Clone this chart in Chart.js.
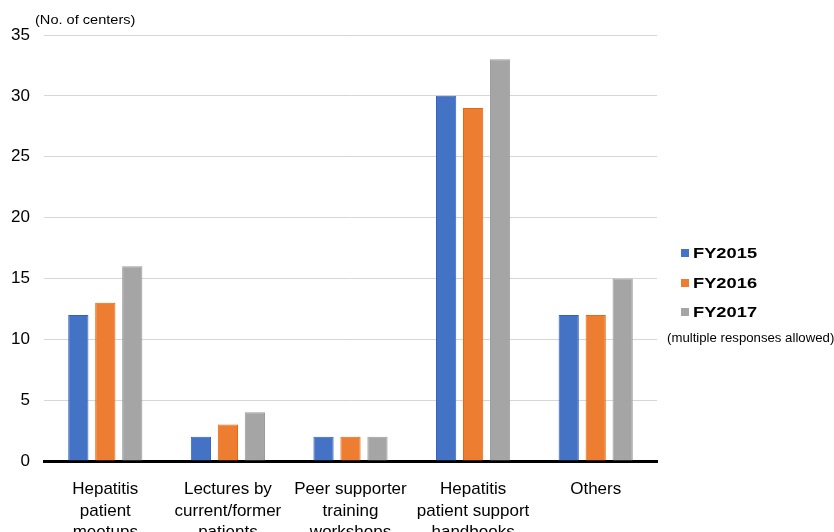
<!DOCTYPE html>
<html>
<head>
<meta charset="utf-8">
<script src="https://cdn.jsdelivr.net/npm/chart.js@4"></script>
<style>
  html, body { margin: 0; padding: 0; background: #fff; overflow: hidden; }
  #wrap { width: 834px; height: 532px; position: relative; }
</style>
</head>
<body>
<div id="wrap"><canvas id="c" width="834" height="532"></canvas></div>
<script>
// Categories (multi-line labels)
const categories = [
  ["Hepatitis", "patient", "meetups"],
  ["Lectures by", "current/former", "patients"],
  ["Peer supporter", "training", "workshops"],
  ["Hepatitis", "patient support", "handbooks"],
  ["Others"]
];
const seriesNames = ["FY2015", "FY2016", "FY2017"];
const fy2015 = [12, 2, 2, 30, 12];
const fy2016 = [13, 3, 2, 29, 12];
const fy2017 = [16, 4, 2, 33, 15];
const yTicks = [0, 5, 10, 15, 20, 25, 30, 35];
const unitLabel = "(No. of centers)";
const noteLabel = "(multiple responses allowed)";

const fills = ["#4472C4", "#ED7D31", "#A5A5A5"];
const borders = ["#2F62C4", "#E8670F", "#9A9A9A"];
const values = [fy2015, fy2016, fy2017];

const FONT = "'Liberation Sans', Arial, sans-serif";

// Draws text slightly widened horizontally
function wideText(ctx, text, x, y, sx) {
  ctx.save();
  ctx.translate(x, y);
  ctx.scale(sx, 1);
  ctx.fillText(text, 0, 0);
  ctx.restore();
}

// Legend, unit caption and note drawn beside the plot
const sidePlugin = {
  id: "side",
  afterDraw(chart) {
    const ctx = chart.ctx;
    ctx.save();
    ctx.fillStyle = "#000";
    ctx.textBaseline = "middle";
    ctx.textAlign = "left";
    ctx.font = "13.5px " + FONT;
    wideText(ctx, unitLabel, 35, 20, 1.08);

    const x0 = 681, ys = [253, 283, 312];
    chart.data.datasets.forEach((ds, i) => {
      ctx.fillStyle = ds.backgroundColor;
      ctx.fillRect(x0, ys[i] - 4, 8, 8);
      ctx.fillStyle = "#000";
      ctx.font = "bold 15.5px " + FONT;
      wideText(ctx, ds.label, x0 + 12, ys[i] + 1, 1.18);
    });
    ctx.font = "12px " + FONT;
    wideText(ctx, noteLabel, 667, 339, 1.1);
    ctx.restore();
  }
};

new Chart(document.getElementById("c"), {
  type: "bar",
  data: {
    labels: categories,
    datasets: seriesNames.map((name, i) => ({
      label: name,
      data: values[i],
      backgroundColor: fills[i],
      borderColor: borders[i],
      borderWidth: 1,
      categoryPercentage: 0.66,
      barPercentage: 0.75
    }))
  },
  options: {
    responsive: false,
    animation: false,
    devicePixelRatio: 1,
    layout: { padding: { top: 35, right: 177, left: 0, bottom: 0 } },
    plugins: {
      legend: { display: false },
      tooltip: { enabled: false }
    },
    scales: {
      x: {
        grid: { display: false },
        border: { display: true, color: "#000", width: 3 },
        ticks: {
          color: "#000",
          font: { family: FONT, size: 17, lineHeight: 1.25 },
          padding: 10,
          maxRotation: 0,
          autoSkip: false
        },
        afterFit(s) { s.height = 71; }
      },
      y: {
        min: 0,
        max: 35,
        afterBuildTicks(s) { s.ticks = yTicks.map(v => ({ value: v })); },
        grid: { color: "#d6d6d6", lineWidth: 1, drawTicks: false },
        border: { display: false },
        ticks: {
          color: "#000",
          font: { family: FONT, size: 17 },
          padding: 14
        },
        afterFit(s) { s.width = 44; }
      }
    }
  },
  plugins: [sidePlugin]
});
</script>
</body>
</html>
